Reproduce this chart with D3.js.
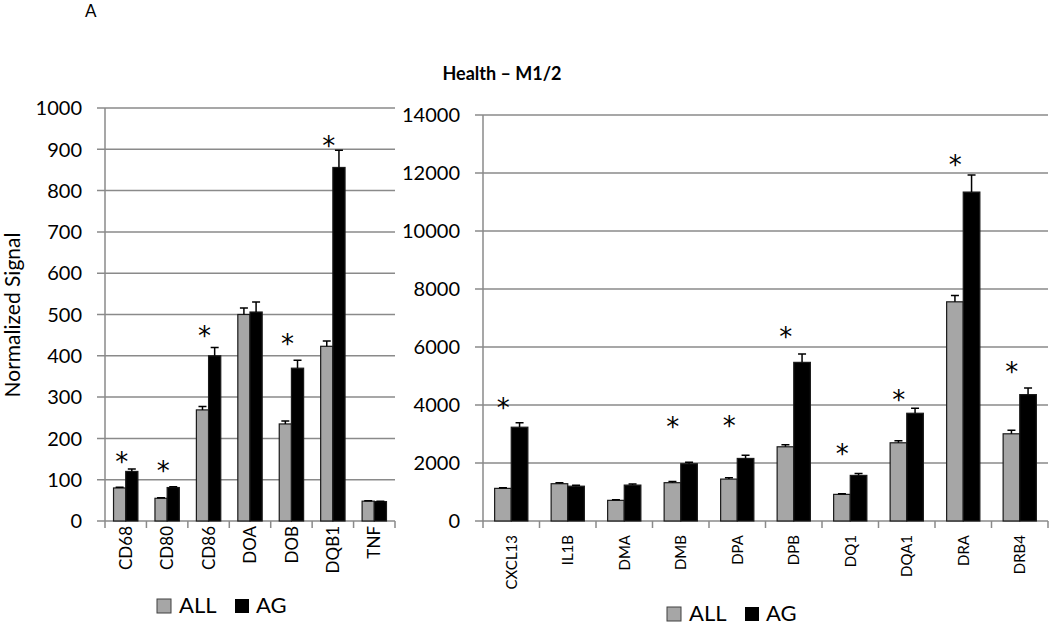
<!DOCTYPE html>
<html>
<head>
<meta charset="utf-8">
<script src="https://cdn.jsdelivr.net/npm/d3@7"></script>
<style>
  body { margin: 0; background: #fff; }
  svg { font-family: Lato, "Open Sans", sans-serif; }
</style>
</head>
<body>
<svg id="chart" width="1050" height="627"></svg>
<script>
// left panel
const leftGenes = ["CD68", "CD80", "CD86", "DOA", "DOB", "DQB1", "TNF"];
const leftAll = [80, 55, 269, 500, 235, 423, 48];
const leftAllErr = [2, 1, 8, 16, 7, 13, 1];
const leftAg = [120, 81, 400, 506, 370, 856, 47];
const leftAgErr = [6, 2, 20, 24, 19, 42, 1];
const leftStar = [158, 136, 462, null, 444, 923, null];
const leftTicks = [0, 100, 200, 300, 400, 500, 600, 700, 800, 900, 1000];

// right panel
const rightGenes = ["CXCL13", "IL1B", "DMA", "DMB", "DPA", "DPB", "DQ1", "DQA1", "DRA", "DRB4"];
const rightAll = [1125, 1286, 712, 1321, 1445, 2559, 918, 2697, 7558, 3007];
const rightAllErr = [25, 35, 20, 40, 45, 70, 20, 70, 220, 125];
const rightAg = [3234, 1200, 1238, 1974, 2157, 5470, 1572, 3715, 11342, 4358];
const rightAgErr = [150, 35, 35, 55, 110, 290, 70, 170, 585, 230];
const rightStar = [4094, null, null, 3440, 3498, 6560, 2525, 4393, 12477, 5332];
const rightTicks = [0, 2000, 4000, 6000, 8000, 10000, 12000, 14000];

const series = ["ALL", "AG"];
const colors = { ALL: "#a6a6a6", AG: "#000000" };
const gridColor = "#8a8a8a";

const svg = d3.select("#chart");

// panel label and title
svg.append("text").attr("x", 85).attr("y", 17).attr("font-size", 17).text("A");
svg.append("text").attr("x", 502).attr("y", 80).attr("text-anchor", "middle")
    .attr("font-size", 18).attr("font-weight", "bold").text("Health \u2013 M1/2");

svg.append("text")
    .attr("transform", "translate(20,315) rotate(-90)")
    .attr("text-anchor", "middle").attr("font-size", 21)
    .text("Normalized Signal");

function drawPanel(cfg) {
    const g = svg.append("g");
    const x0 = d3.scaleBand().domain(cfg.genes).range([cfg.x0, cfg.x1]).padding(0);
    const x1 = d3.scaleBand().domain(series).range([0, x0.bandwidth()]).paddingInner(0).paddingOuter(0.7);
    const y = d3.scaleLinear().domain([0, cfg.max]).range([cfg.yBottom, cfg.yTop]);

    // gridlines with outside tick
    g.selectAll(".grid").data(cfg.ticks).enter().append("line")
        .attr("x1", cfg.x0 - 8).attr("x2", cfg.x1)
        .attr("y1", d => y(d)).attr("y2", d => y(d))
        .attr("stroke", gridColor).attr("stroke-width", 1.5);

    // y axis line
    g.append("line").attr("x1", cfg.x0).attr("x2", cfg.x0)
        .attr("y1", y(cfg.max)).attr("y2", y(0))
        .attr("stroke", gridColor).attr("stroke-width", 1.5);

    // y tick labels
    g.selectAll(".ylab").data(cfg.ticks).enter().append("text")
        .attr("x", cfg.x0 - 23).attr("y", d => y(d)).attr("dy", "0.36em")
        .attr("text-anchor", "end").attr("font-size", 20)
        .text(d => d);

    // x category ticks
    const bounds = cfg.genes.map(d => x0(d)).concat([cfg.x1]);
    g.selectAll(".xtick").data(bounds).enter().append("line")
        .attr("x1", d => d).attr("x2", d => d)
        .attr("y1", y(0)).attr("y2", y(0) + 7)
        .attr("stroke", gridColor).attr("stroke-width", 1.5);

    // x labels
    g.selectAll(".xlab").data(cfg.genes).enter().append("text")
        .attr("transform", d => `translate(${x0(d) + x0.bandwidth() / 2},${y(0) + cfg.labelGap}) rotate(-90)`)
        .attr("text-anchor", "end").attr("dy", "0.36em")
        .attr("font-size", cfg.labelSize)
        .text(d => d);

    const rows = cfg.genes.map((gene, i) => ({
        gene,
        vals: [
            { key: "ALL", v: cfg.all[i], e: cfg.allErr[i] },
            { key: "AG", v: cfg.ag[i], e: cfg.agErr[i] }
        ],
        star: cfg.star[i]
    }));

    const groups = g.selectAll(".grp").data(rows).enter().append("g")
        .attr("transform", d => `translate(${x0(d.gene)},0)`);

    groups.selectAll("rect").data(d => d.vals).enter().append("rect")
        .attr("x", d => x1(d.key)).attr("width", x1.bandwidth())
        .attr("y", d => y(d.v)).attr("height", d => y(0) - y(d.v))
        .attr("fill", d => colors[d.key])
        .attr("stroke", "#1a1a1a").attr("stroke-width", 1.2);

    // error bars
    groups.selectAll(".err").data(d => d.vals).enter().append("path")
        .attr("d", d => {
            const cx = x1(d.key) + x1.bandwidth() / 2;
            const top = y(d.v + d.e);
            return `M${cx},${y(d.v)}V${top}M${cx - 4},${top}H${cx + 4}`;
        })
        .attr("stroke", "#000").attr("stroke-width", 1.5).attr("fill", "none");

    // significance stars
    groups.filter(d => d.star != null).append("text")
        .attr("x", x0.bandwidth() / 2 + cfg.starShift)
        .attr("y", d => y(d.star) + 15)
        .attr("text-anchor", "middle").attr("font-size", 26)
        .attr("font-family", "DejaVu Sans").attr("fill", "#000")
        .text("*");

    // legend
    const lg = g.append("g").attr("transform", `translate(${cfg.legendX},${cfg.legendY})`);
    lg.append("rect").attr("x", 0).attr("y", -14).attr("width", 14).attr("height", 14)
        .attr("fill", colors.ALL).attr("stroke", "#404040").attr("stroke-width", 1);
    lg.append("text").attr("x", 22).attr("y", 0).attr("font-size", 22).text("ALL");
    lg.append("rect").attr("x", 78).attr("y", -14).attr("width", 14).attr("height", 14)
        .attr("fill", colors.AG);
    lg.append("text").attr("x", 99).attr("y", 0).attr("font-size", 22).text("AG");
}

drawPanel({
    genes: leftGenes, all: leftAll, allErr: leftAllErr, ag: leftAg, agErr: leftAgErr,
    star: leftStar, ticks: leftTicks, max: 1000,
    x0: 105, x1: 395, yTop: 108, yBottom: 521,
    labelGap: 5, labelSize: 17, starShift: -4,
    legendX: 157, legendY: 613
});

drawPanel({
    genes: rightGenes, all: rightAll, allErr: rightAllErr, ag: rightAg, agErr: rightAgErr,
    star: rightStar, ticks: rightTicks, max: 14000,
    x0: 483, x1: 1048, yTop: 115, yBottom: 521,
    labelGap: 14, labelSize: 15, starShift: -8,
    legendX: 667, legendY: 621
});
</script>
</body>
</html>
